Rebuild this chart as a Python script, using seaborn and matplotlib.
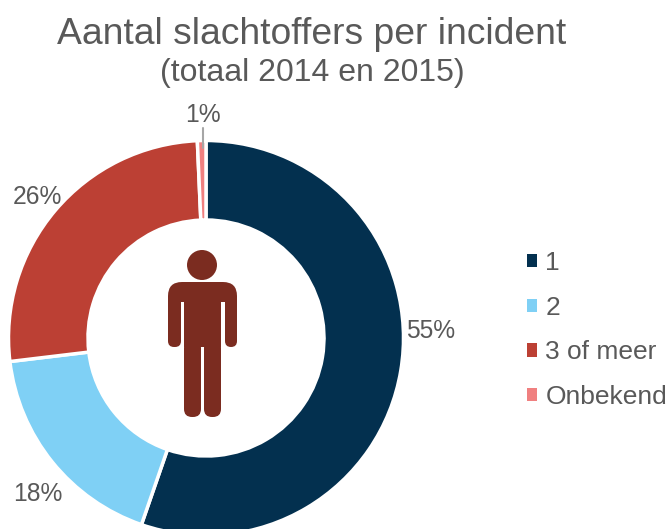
import matplotlib
matplotlib.use("Agg")
import matplotlib.pyplot as plt
import seaborn as sns
from matplotlib.patches import Circle, FancyBboxPatch, Rectangle

categories = ["1", "2", "3 of meer", "Onbekend"]
shares = [55.3, 17.8, 26.2, 0.7]
pct_labels = ["55%", "18%", "26%", "1%"]
colors = ["#03304F", "#7FD0F5", "#BC4034", "#F08080"]

sns.set_theme(style="white")
plt.rcParams["font.family"] = ["Liberation Sans", "DejaVu Sans"]
text_color = "#595959"
icon_color = "#7B2C20"
H = 529

fig, ax = plt.subplots(figsize=(6.68, 5.29), dpi=100)
fig.subplots_adjust(0, 0, 1, 1)

wedges, _ = ax.pie(
    shares, colors=sns.color_palette(colors), startangle=90, counterclock=False,
    center=(206, H - 338), radius=197.5, frame=True,
    wedgeprops=dict(width=79.5, edgecolor="white", linewidth=2.5),
)
ax.set_xlim(0, 668)
ax.set_ylim(0, H)
ax.set_aspect("equal")
ax.axis("off")

# percentage labels, positions in pixels from the top left
label_pos = [(431, 331), (38, 494), (37, 197), (203, 115)]
for lab, (x, y) in zip(pct_labels, label_pos):
    ax.text(x, H - y, lab, fontsize=17.7, color=text_color, ha="center", va="center")
ax.plot([203, 203], [H - 128, H - 148], color="#A6A6A6", lw=1.5, zorder=5)

ax.text(312, H - 34, "Aantal slachtoffers per incident", fontsize=26.8, color=text_color,
        ha="center", va="center")
ax.text(312, H - 73, "(totaal 2014 en 2015)", fontsize=23, color=text_color,
        ha="center", va="center")


def rounded(x0, y0, x1, y1, r):
    # y values measured from the top of the picture
    ax.add_patch(FancyBboxPatch((x0 + r, H - y1 + r), x1 - x0 - 2 * r, y1 - y0 - 2 * r,
                                boxstyle=f"round,pad={r},rounding_size={r}",
                                fc=icon_color, ec="none", zorder=4))


# person icon
ax.add_patch(Circle((202, H - 265), 15, fc=icon_color, ec="none", zorder=4))
rounded(168, 282, 237, 325, 14)
rounded(168, 300, 181, 347, 6)
rounded(225, 300, 237, 347, 6)
ax.add_patch(Rectangle((181, H - 325), 3, 23, fc="white", ec="none", zorder=5))
ax.add_patch(Rectangle((221, H - 325), 4, 23, fc="white", ec="none", zorder=5))
ax.add_patch(Rectangle((184, H - 347), 37, 47, fc=icon_color, ec="none", zorder=4))
rounded(184, 340, 201, 417, 8)
rounded(204, 340, 221, 417, 8)

handles = [Rectangle((0, 0), 1, 1, fc=c, ec="none") for c in colors]
ax.legend(handles, categories, loc="center left", bbox_to_anchor=(519, H - 330),
          bbox_transform=ax.transData, frameon=False, fontsize=19, labelcolor=text_color,
          handlelength=0.4, handleheight=0.4, handletextpad=0.3, labelspacing=0.78,
          borderpad=0, borderaxespad=0.3)

fig.savefig("out.png", dpi=100)
